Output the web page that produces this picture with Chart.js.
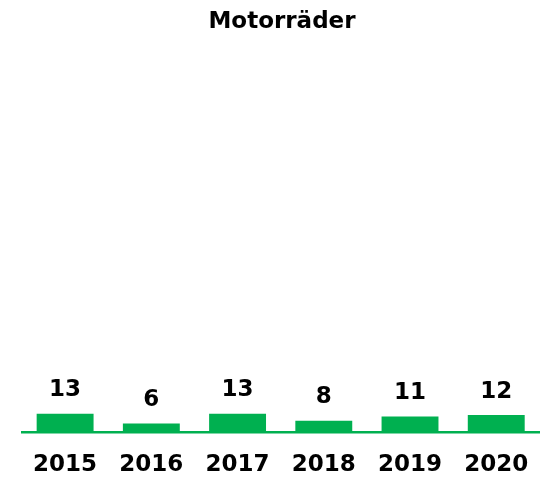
<!DOCTYPE html>
<html lang="de">
<head>
    <meta charset="UTF-8">
    <title>Motorräder</title>
    <script src="https://cdn.jsdelivr.net/npm/chart.js"></script>
    <style>
        html, body {
            margin: 0;
            padding: 0;
            background-color: #ffffff;
            overflow: hidden;
        }

        canvas {
            display: block;
        }
    </style>
</head>
<body>

<canvas id="motoChart" width="551" height="477"></canvas>

<script>
    // Daten
    const years = ['2015', '2016', '2017', '2018', '2019', '2020'];
    const motorraeder = [13, 6, 13, 8, 11, 12];

    const green = '#00b050';
    const labelFont = { family: 'DejaVu Sans', size: 23, weight: 'bold', lineHeight: 1 };

    // Werte über den Balken schreiben
    const valueLabels = {
        id: 'valueLabels',
        afterDatasetsDraw(chart) {
            const ctx = chart.ctx;
            const meta = chart.getDatasetMeta(0);
            ctx.save();
            ctx.font = 'bold 23px "DejaVu Sans"';
            ctx.fillStyle = '#000000';
            ctx.textAlign = 'center';
            ctx.textBaseline = 'alphabetic';
            meta.data.forEach((bar, i) => {
                ctx.fillText(chart.data.datasets[0].data[i], bar.x, bar.y - 17.5);
            });
            ctx.restore();
        }
    };

    const ctx = document.getElementById('motoChart').getContext('2d');
    new Chart(ctx, {
        type: 'bar',
        data: {
            labels: years,
            datasets: [{
                label: 'Motorräder',
                data: motorraeder,
                backgroundColor: green,
                borderWidth: 0,
                categoryPercentage: 1,
                barPercentage: 0.66
            }]
        },
        options: {
            responsive: false,
            animation: false,
            devicePixelRatio: 1,
            layout: {
                // die x-Achse ist höher als nötig, unten etwas zurücknehmen
                padding: { left: 22, right: 9, top: 0, bottom: -22 }
            },
            plugins: {
                legend: { display: false },
                tooltip: { enabled: false },
                title: {
                    display: true,
                    text: 'Motorräder',
                    color: '#000000',
                    font: { family: 'DejaVu Sans', size: 23, weight: 'bold', lineHeight: 1.2 },
                    padding: { top: 8, bottom: 29 }
                }
            },
            scales: {
                x: {
                    grid: { display: false, drawTicks: false },
                    border: { display: true, color: green, width: 2.5 },
                    ticks: {
                        color: '#000000',
                        font: labelFont,
                        padding: 22,
                        maxRotation: 0
                    }
                },
                y: {
                    display: false,
                    min: 0,
                    max: 260
                }
            }
        },
        plugins: [valueLabels]
    });
</script>

</body>
</html>
